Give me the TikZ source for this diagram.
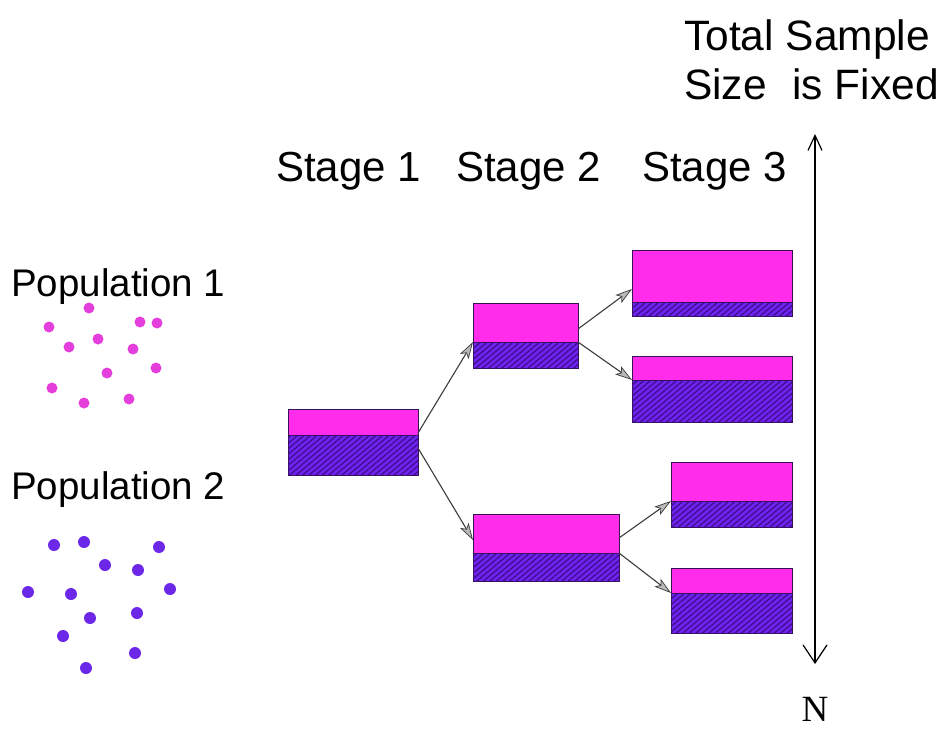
\documentclass[tikz,border=0pt]{standalone}
\usepackage{fontspec}
\setmainfont{Liberation Sans}
\newfontfamily\serifN{Liberation Serif}
\usetikzlibrary{arrows.meta,patterns.meta}

\definecolor{magtop}{RGB}{255,45,235}
\definecolor{purbot}{RGB}{112,34,238}
\definecolor{hatchc}{RGB}{58,14,140}
\definecolor{edgec}{RGB}{55,18,85}
\definecolor{dotA}{RGB}{228,62,220}
\definecolor{dotB}{RGB}{108,40,232}
\definecolor{arrc}{RGB}{60,60,60}

\tikzset{
  topbox/.style={draw=edgec, line width=0.9pt, fill=magtop, inner sep=0pt, outer sep=0pt, anchor=north west},
  botbox/.style={draw=edgec, line width=0.9pt, fill=purbot, inner sep=0pt, outer sep=0pt, anchor=north west,
    postaction={pattern={Lines[angle=40,distance=4.2pt,line width=1.2pt]}, pattern color=hatchc}},
  flow/.style={draw=arrc, line width=1.1pt, -{Stealth[length=17pt,width=10pt,inset=4pt,fill=gray!55,line width=0.7pt]}},
  lbl/.style={inner sep=0pt, anchor=base west, font=\fontsize{42}{50}\selectfont},
  dotp/.style={fill=dotA, draw=none},
  dotq/.style={fill=dotB, draw=none}
}

% two-part sample box: name, x, top y, width, height of upper part, height of lower part
\newcommand\samplebox[6]{%
  \node[topbox, minimum width=#4pt, minimum height=#5pt] (#1t) at (#2,#3) {};
  \node[botbox, minimum width=#4pt, minimum height=#6pt] (#1b) at (#1t.south west) {};
}

\begin{document}
\begin{tikzpicture}[x=1pt,y=-1pt]
\useasboundingbox (0,0) rectangle (943,729);

% headings
\node[lbl, font=\fontsize{42.5}{50}\selectfont] (tot1) at (684,50) {Total Sample};
\node[lbl, font=\fontsize{42.5}{50}\selectfont] (tot2) at (684,99) {Size\hspace{0.6em}is Fixed};
\node[lbl] (st1) at (276,181) {Stage 1};
\node[lbl] (st2) at (456,181) {Stage 2};
\node[lbl] (st3) at (642,181) {Stage 3};
\node[lbl, font=\fontsize{38.5}{46}\selectfont] (pop1) at (11,296) {Population 1};
\node[lbl, font=\fontsize{38.5}{46}\selectfont] (pop2) at (11,499) {Population 2};

% population 1
\foreach \px/\py in {89/308,49/327,140/322,157/323,69/347,98/339,133/349,107/373,156/368,52/388,84/403,129/399}
  \fill[dotp] (\px,\py) circle (5.5);
% population 2
\foreach \px/\py in {54/545,84/542,159/547,105/565,138/570,28/592,71/594,170/589,90/618,137/613,63/636,135/653,86/668}
  \fill[dotq] (\px,\py) circle (6);

% sample boxes
\samplebox{sa}{288}{409}{130}{26}{40}
\samplebox{sb}{473}{303}{105}{39}{26}
\samplebox{sc}{473}{514}{146}{39}{28}
\samplebox{sd}{632}{250}{160}{52}{14}
\samplebox{se}{632}{356}{160}{24}{42}
\samplebox{sf}{671}{462}{121}{39}{26}
\samplebox{sg}{671}{568}{121}{25}{40}

% branching arrows
\draw[flow] ([yshift=2pt]sat.south east) -- (sbt.south west);
\draw[flow] ([yshift=-13pt]sat.south east) -- ([yshift=13pt]sct.south west);
\draw[flow] ([yshift=13pt]sbt.south east) -- ([yshift=13pt]sdt.south west);
\draw[flow] (sbt.south east) -- (set.south west);
\draw[flow] ([yshift=15pt]sct.south east) -- (sft.south west);
\draw[flow] (sct.south east) -- (sgt.south west);

% total sample size axis
\coordinate (axtop) at (815,134);
\coordinate (axbot) at (815,664);
\draw[line width=1.3pt, {Straight Barb[length=15pt,width=14pt,line width=1.2pt]}-{Straight Barb[length=18pt,width=24pt,line width=1.2pt]}] (axtop) -- (axbot);
\node[inner sep=0pt, anchor=base, font=\serifN\fontsize{37}{44}\selectfont] (nn) at (815,721) {N};
\end{tikzpicture}
\end{document}
